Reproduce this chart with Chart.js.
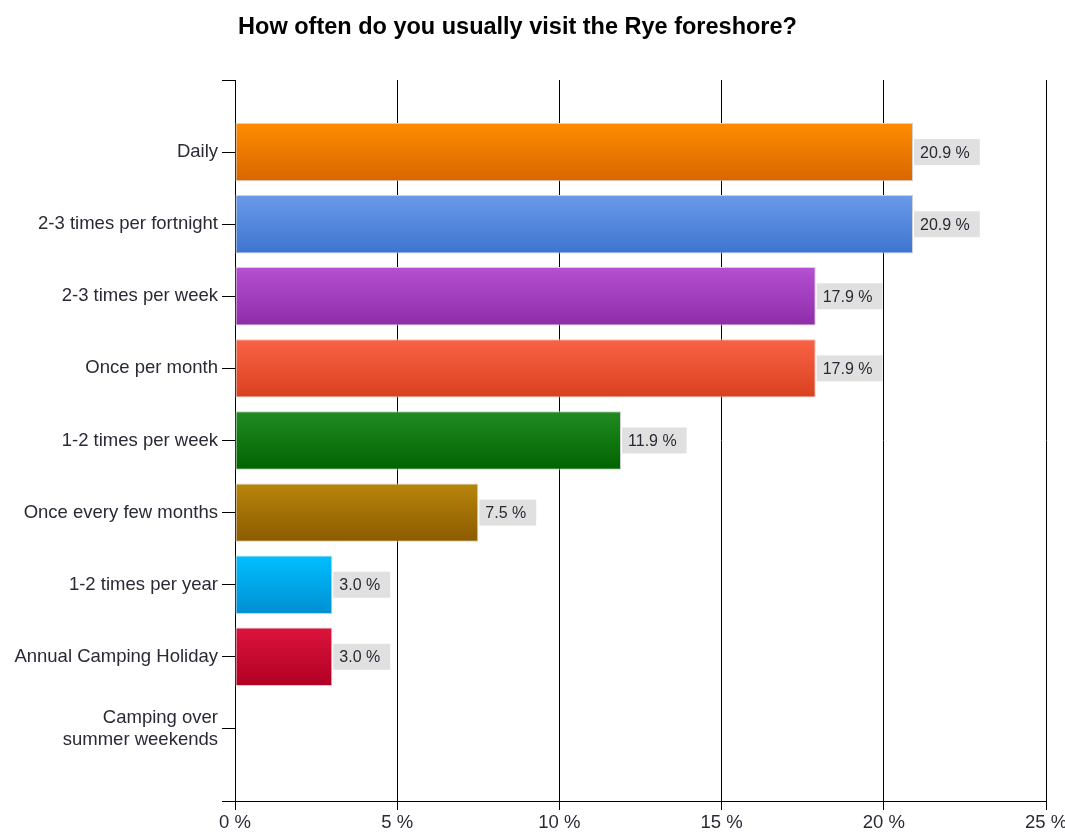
<!DOCTYPE html>
<html>
<head>
<meta charset="utf-8">
<title>How often do you usually visit the Rye foreshore?</title>
<script src="https://cdn.jsdelivr.net/npm/chart.js@4/dist/chart.umd.min.js"></script>
<style>
  html, body { margin: 0; padding: 0; background: #ffffff; }
  #wrap { width: 1065px; height: 832px; position: relative; }
</style>
</head>
<body>
<div id="wrap"><canvas id="chart"></canvas></div>
<script>
// Survey answers, top to bottom
const categories = [
  'Daily',
  '2-3 times per fortnight',
  '2-3 times per week',
  'Once per month',
  '1-2 times per week',
  'Once every few months',
  '1-2 times per year',
  'Annual Camping Holiday',
  ['Camping over', 'summer weekends']
];
// Share of respondents, percent
const shares = [20.9, 20.9, 17.9, 17.9, 11.9, 7.5, 3.0, 3.0, 0];
// Percent axis ticks
const xTicks = [0, 5, 10, 15, 20, 25];

// Bar gradient colours (top, bottom)
const topColors = ['#ff8c00', '#6a9ae9', '#b551d2', '#f96345', '#228b22', '#b8860b', '#00bfff', '#dc143c', '#999999'];
const bottomColors = ['#d86600', '#3e74cf', '#8e2ca8', '#d9401f', '#006400', '#8b5b00', '#008fd2', '#b00024', '#777777'];

const TITLE = 'How often do you usually visit the Rye foreshore?';
const VALUE_FONT = '16px "Liberation Sans", Arial, sans-serif';

function barGradient(c) {
  const i = c.dataIndex;
  const chart = c.chart;
  const ys = chart.scales && chart.scales.y;
  if (!ys || c.type !== 'data' || !isFinite(ys.getPixelForValue(0))) return topColors[i];
  const cy = ys.getPixelForValue(i);
  const half = Math.abs(ys.getPixelForValue(1) - ys.getPixelForValue(0)) * 0.81 / 2;
  const g = chart.ctx.createLinearGradient(0, cy - half, 0, cy + half);
  g.addColorStop(0, topColors[i]);
  g.addColorStop(1, bottomColors[i]);
  return g;
}

// Title drawn above the plot
const titlePlugin = {
  id: 'surveyTitle',
  afterDraw(chart) {
    const ctx = chart.ctx;
    ctx.save();
    ctx.font = 'bold 23.5px "Liberation Sans", Arial, sans-serif';
    ctx.fillStyle = '#000000';
    ctx.textAlign = 'center';
    ctx.textBaseline = 'alphabetic';
    ctx.fillText(TITLE, 517.5, 34);
    ctx.restore();
  }
};

// Grey value boxes at the end of each bar
const valueLabels = {
  id: 'valueLabels',
  afterDatasetsDraw(chart) {
    const ctx = chart.ctx;
    const meta = chart.getDatasetMeta(0);
    ctx.save();
    ctx.font = VALUE_FONT;
    ctx.textBaseline = 'middle';
    ctx.textAlign = 'left';
    meta.data.forEach((bar, i) => {
      const v = shares[i];
      if (!v) return;
      const txt = v.toFixed(1) + ' %';
      const tw = ctx.measureText(txt).width;
      const x0 = bar.x + 1;
      const h = 26;
      ctx.fillStyle = '#e0e0e0';
      ctx.fillRect(x0, bar.y - h / 2, tw + 16, h);
      ctx.fillStyle = '#2a2a35';
      ctx.fillText(txt, x0 + 6, bar.y + 1);
    });
    ctx.restore();
  }
};

new Chart(document.getElementById('chart'), {
  type: 'bar',
  data: {
    datasets: [{
      data: shares.map((v, i) => ({ x: v, y: i })),
      backgroundColor: barGradient,
      borderColor: '#d2d2d2',
      borderWidth: 1,
      borderSkipped: false,
      barPercentage: 1,
      categoryPercentage: 0.81
    }]
  },
  options: {
    indexAxis: 'y',
    responsive: true,
    maintainAspectRatio: false,
    animation: false,
    events: [],
    layout: { padding: { top: 80, right: 19, left: 0, bottom: 0 } },
    plugins: {
      legend: { display: false },
      tooltip: { enabled: false },
      title: { display: false }
    },
    scales: {
      x: {
        type: 'linear',
        position: 'bottom',
        min: xTicks[0],
        max: xTicks[xTicks.length - 1],
        afterBuildTicks(scale) { scale.ticks = xTicks.map(v => ({ value: v })); },
        ticks: {
          callback: v => v + ' %',
          font: { family: '"Liberation Sans", Arial, sans-serif', size: 18.5 },
          color: '#2a2a35',
          padding: 2,
          maxRotation: 0
        },
        grid: { color: '#000000', lineWidth: 1, tickLength: 9, drawOnChartArea: true, offset: false },
        border: { color: '#000000', width: 1 },
        afterFit(scale) { scale.height = 31; scale.paddingLeft = 0; scale.paddingRight = 0; }
      },
      y: {
        type: 'linear',
        reverse: true,
        offset: false,
        min: -1,
        max: categories.length,
        ticks: {
          stepSize: 1,
          autoSkip: false,
          callback: v => (Number.isInteger(v) && v >= 0 && v < categories.length) ? categories[v] : '',
          font: { family: '"Liberation Sans", Arial, sans-serif', size: 18.5, lineHeight: 1.15 },
          color: '#2a2a35',
          padding: 4
        },
        grid: { drawOnChartArea: false, drawTicks: true, tickLength: 13, color: '#000000', lineWidth: 1, offset: false },
        border: { color: '#000000', width: 1 },
        afterFit(scale) { scale.width = 235; scale.paddingTop = 0; scale.paddingBottom = 0; }
      }
    }
  },
  plugins: [titlePlugin, valueLabels]
});
</script>
</body>
</html>
